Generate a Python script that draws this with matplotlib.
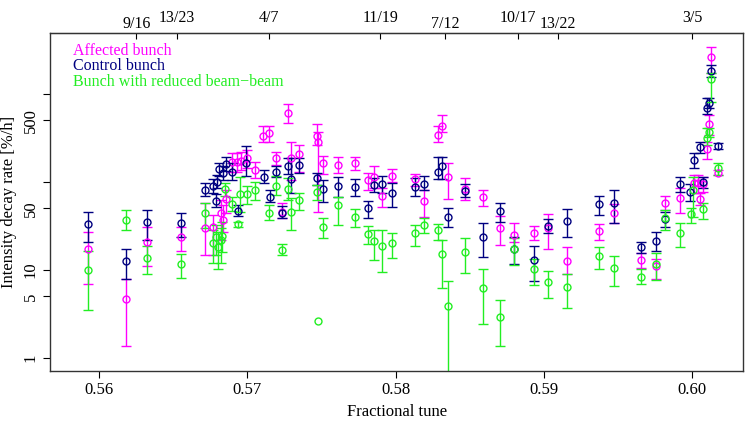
import numpy as np
import matplotlib
matplotlib.use("Agg")
import matplotlib.pyplot as plt

plt.rcParams["font.family"] = ["Liberation Serif", "DejaVu Serif"]

# affected bunch: tune, rate, lower, upper  [%/h]
affected_tune = [0.55922, 0.56178, 0.56320, 0.56551, 0.56713, 0.56769, 0.56821, 0.56832,
                 0.56852, 0.56893, 0.56926, 0.56955, 0.56994, 0.57050, 0.57106, 0.57146,
                 0.57191, 0.57230, 0.57270, 0.57291, 0.57347, 0.57466, 0.57474, 0.57510,
                 0.57613, 0.57724, 0.57814, 0.57852, 0.57910, 0.57972, 0.58129, 0.58192,
                 0.58287, 0.58313, 0.58353, 0.58466, 0.58589, 0.58702, 0.58798, 0.58933,
                 0.59028, 0.59152, 0.59370, 0.59473, 0.59655, 0.59754, 0.59815, 0.59916,
                 0.60012, 0.60040, 0.60055, 0.60072, 0.60097, 0.60113, 0.60129, 0.60174]
affected_rate = [17.2, 4.65, 20.8, 23.9, 29.8, 30.6, 44, 37,
                 63.6, 167, 167, 172, 186, 137, 333, 357,
                 186, 46, 604, 186, 208, 333, 287, 163,
                 156, 166, 105, 113, 69.3, 118, 108, 61.3,
                 342, 436, 115, 83.6, 68.1, 30.2, 25, 26.5,
                 30.2, 12.6, 27.7, 44.8, 12.8, 11.1, 58.2, 65,
                 96.6, 96.6, 63.6, 94.9, 235, 456, 2612, 128]
affected_low = [6.9, 1.37, 11.1, 16.4, 14.8, 14.8, 22, 27,
                44.8, 130, 130, 137, 145, 110, 283, 283,
                156, 38.7, 464, 105, 131, 263, 45.6, 123,
                126, 137, 81, 84.8, 51.6, 101, 90, 40.3,
                283, 373, 63.6, 62.4, 53.4, 19.2, 20.8, 21.9,
                17.3, 9.0, 21.9, 33.9, 10.45, 7.9, 48.1, 44,
                74.4, 74.4, 54.8, 77, 181, 342, 1746, 120]
affected_high = [27.2, 7.8, 31, 31, 57.3, 42, 62, 55,
                 81, 213, 213, 219, 230, 167, 436, 436,
                 221, 57.3, 764, 283, 263, 452, 373, 199,
                 194, 194, 128, 152, 84.8, 139, 123, 81,
                 436, 577, 166, 110, 81, 41.1, 33.9, 31.6,
                 43, 18.4, 33.3, 55.8, 15.5, 13.3, 69.3, 84.8,
                 120, 120, 75, 114, 287, 577, 3447, 137]

# control bunch
control_tune = [0.55922, 0.56178, 0.56320, 0.56551, 0.56713, 0.56769, 0.56785, 0.56792,
                0.56809, 0.56832, 0.56852, 0.56893, 0.56935, 0.56987, 0.57113, 0.57151,
                0.57191, 0.57230, 0.57270, 0.57291, 0.57347, 0.57470, 0.57510, 0.57613,
                0.57724, 0.57814, 0.57852, 0.57910, 0.57972, 0.58129, 0.58192, 0.58287,
                0.58313, 0.58353, 0.58466, 0.58589, 0.58702, 0.58798, 0.58933, 0.59028,
                0.59152, 0.59370, 0.59473, 0.59655, 0.59754, 0.59815, 0.59916, 0.59986,
                0.60012, 0.60055, 0.60072, 0.60097, 0.60113, 0.60129, 0.60174]
control_rate = [33.3, 12.6, 35.1, 34.5, 81.1, 90.1, 61.3, 101,
                139, 126, 160, 131, 47, 163, 115, 68.1,
                130, 44.8, 152, 107, 156, 110, 82.6, 90.8,
                88.5, 50.2, 92.4, 94.2, 75.5, 88.5, 94.9, 131,
                152, 40.3, 79.6, 23.9, 46.8, 17.3, 13, 31.9,
                36.3, 55.8, 58.2, 18.4, 21.5, 37.7, 94.2, 77.6,
                178, 248, 101, 688, 797, 1824, 256]
control_low = [21, 7.8, 21.8, 23.7, 69.3, 75, 52, 85,
               117, 105, 133, 105, 41, 117, 98, 59.5,
               113, 39, 123, 74.4, 128, 92, 59.7, 68,
               69.3, 38.7, 77, 74.4, 52.4, 69.3, 81, 108,
               108, 30.6, 67, 14.2, 35.4, 11.6, 7.4, 26.1,
               23.5, 42.2, 33.9, 15.7, 16.6, 31, 77.6, 61.3,
               143, 212, 84.8, 593, 700, 1573, 235]
control_high = [45.3, 17.5, 48.5, 44.8, 96.6, 108, 73, 120,
                165, 152, 191, 165, 55, 258, 137, 81,
                152, 53.4, 186, 186, 186, 126, 105, 115,
                107, 60.8, 110, 117, 96.6, 110, 118, 194,
                194, 50.2, 94.9, 33.9, 58.2, 23.9, 18.7, 38,
                49.3, 69.3, 81.1, 20.6, 26.8, 46, 115, 94.2,
                212, 287, 115, 893, 900, 2136, 275]

# bunch with reduced beam-beam
reduced_tune = [0.55922, 0.56178, 0.56320, 0.56551, 0.56713, 0.56769, 0.56785, 0.56800,
                0.56821, 0.56830, 0.56848, 0.56893, 0.56935, 0.56949, 0.56994, 0.57050,
                0.57146, 0.57191, 0.57230, 0.57270, 0.57291, 0.57347, 0.57470, 0.57473,
                0.57510, 0.57613, 0.57724, 0.57814, 0.57852, 0.57910, 0.57972, 0.58129,
                0.58192, 0.58287, 0.58313, 0.58353, 0.58466, 0.58589, 0.58702, 0.58798,
                0.58933, 0.59028, 0.59152, 0.59370, 0.59473, 0.59655, 0.59754, 0.59815,
                0.59916, 0.59993, 0.60005, 0.60072, 0.60097, 0.60113, 0.60129, 0.60174]
reduced_rate = [9.9, 37, 13.7, 11.7, 44.1, 20.1, 23.5, 18.4,
                22, 24.3, 82.6, 56, 33, 73, 73, 81,
                44.8, 90, 16.9, 82.6, 46, 62.4, 77.6, 2.6,
                31, 54.8, 40.3, 25.6, 21.4, 18.9, 20.1, 26.1,
                32.5, 28.5, 15.2, 3.9, 16.1, 6.3, 2.95, 17.2,
                10.2, 7.2, 6.4, 14.4, 10.6, 8.4, 11.6, 39.3,
                26.1, 43.3, 81, 49, 314, 373, 1481, 143]
reduced_low = [3.5, 28.5, 9.0, 8.2, 30, 12.1, 14.8, 10.2,
               12.1, 16, 69.3, 47, 31, 45.6, 56, 62.4,
               37, 71.5, 14.8, 62.4, 28.5, 48.1, 62.4, np.nan,
               23.2, 32.5, 31, 19.7, 13, 9.4, 13.6, 18.7,
               26.1, 21.9, 6.2, 0.3, 9.3, 2.4, 1.38, 11.4,
               6.8, 4.8, 3.7, 10.2, 6.6, 6.9, 7.7, 28.5,
               18.4, 34.5, 40, 37.7, 263, 327, 817, 120]
reduced_high = [16.6, 48.1, 18.5, 15.2, 57.3, 28.5, 32.5, 27,
                30, 35, 98, 67, 35.1, 115, 90, 100,
                54.8, 117, 19.5, 110, 65, 75.5, 92.4, np.nan,
                38.7, 68, 49.3, 31.6, 28.5, 28.5, 26.5, 32.5,
                38.7, 33.3, 21.9, 7.55, 22.9, 10.2, 4.5, 22.9,
                13.4, 9.6, 9.0, 18.4, 14.5, 10.2, 15.5, 48.1,
                33.9, 50.2, 115, 58.2, 408, 408, 1719, 163]

resonance_values = [9 / 16, 13 / 23, 4 / 7, 11 / 19, 7 / 12, 10 / 17, 13 / 22, 3 / 5]
resonance_labels = ["9/16", "13/23", "4/7", "11/19", "7/12", "10/17", "13/22", "3/5"]
resonance_raised = [False, True, True, True, False, True, False, True]

series = [
    ("Affected bunch", "#ff00ff", affected_tune, affected_rate, affected_low, affected_high),
    ("Control bunch", "#000080", control_tune, control_rate, control_low, control_high),
    ("Bunch with reduced beam\u2212beam", "#22ee22", reduced_tune, reduced_rate, reduced_low, reduced_high),
]


def main():
    fig = plt.figure(figsize=(7.47, 4.21), dpi=100)
    ax = fig.add_axes([0.0669, 0.1188, 0.9282, 0.8028])

    for name, color, tune, rate, low, high in series:
        rate = np.array(rate)
        err = [rate - np.array(low), np.array(high) - rate]
        ax.errorbar(tune, rate, yerr=err, fmt="o", color=color, mfc="none",
                    mec=color, ms=5, mew=1.0, elinewidth=1.0, capsize=3.4,
                    capthick=1.0)

    ax.set_yscale("log")
    ax.set_xlim(0.55668, 0.60344)
    ax.set_ylim(0.71, 4930)
    ax.set_xticks([0.56, 0.57, 0.58, 0.59, 0.60])
    ax.set_xticklabels(["0.56", "0.57", "0.58", "0.59", "0.60"], fontsize=12)
    ax.set_yticks([1, 5, 10, 50, 100, 500, 1000])
    ax.set_yticklabels(["1", "5", "10", "50", "", "500", ""], fontsize=12,
                       rotation=90, va="center")
    ax.yaxis.set_minor_locator(matplotlib.ticker.NullLocator())
    ax.tick_params(axis="both", direction="out", length=5, width=0.8, pad=3)
    ax.set_xlabel("Fractional tune", fontsize=12, labelpad=4)
    ax.set_ylabel("Intensity decay rate [%/h]", fontsize=12, labelpad=4)
    for s in ax.spines.values():
        s.set_linewidth(1.0)
        s.set_color("#333333")

    top = ax.secondary_xaxis("top")
    top.set_xticks(resonance_values)
    top.set_xticklabels([])
    top.tick_params(direction="in", length=4, width=0.8)
    for val, lab, raised in zip(resonance_values, resonance_labels, resonance_raised):
        ax.annotate(lab, xy=(val, 1), xycoords=("data", "axes fraction"),
                    xytext=(0, 11 if raised else 6.5), textcoords="offset points",
                    ha="center", va="center", fontsize=11.5, annotation_clip=False)

    for i, (name, color, *_rest) in enumerate(series):
        ax.text(0.0326, 0.948 - i * 0.047, name, color=color, fontsize=11.5,
                transform=ax.transAxes, ha="left", va="center")

    fig.savefig("out.png", dpi=100)
    plt.close(fig)


if __name__ == "__main__":
    main()
